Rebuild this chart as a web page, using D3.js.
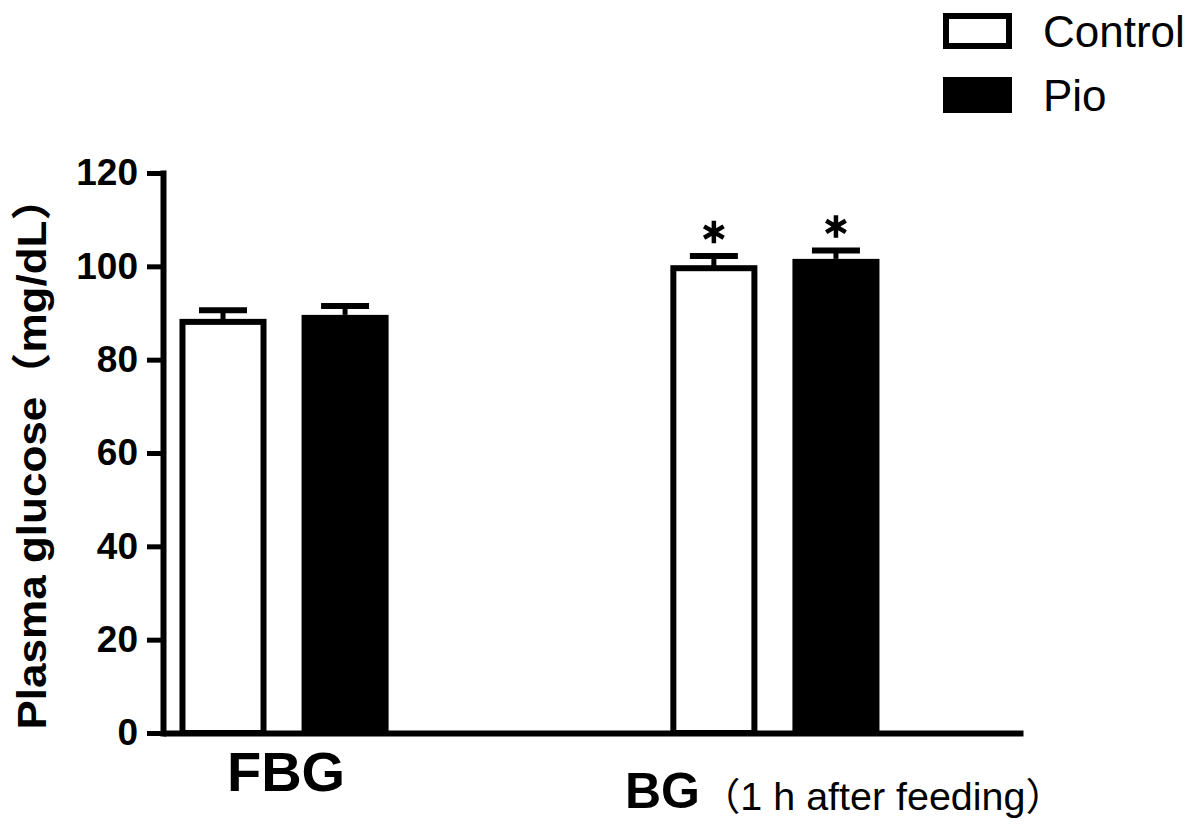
<!DOCTYPE html>
<html lang="en">
<head>
  <meta charset="utf-8">
  <title>Plasma glucose</title>
  <script src="https://d3js.org/d3.v7.min.js"></script>
  <style type="text/css">
    body { margin: 0; background: #fff; }
    text { font-family: "Liberation Sans", Arial, "Noto Sans CJK SC", sans-serif; fill: #000; }
  </style>
</head>
<body>
  <div id="chart"></div>
  <script type="text/javascript">
    // data
    const groups = ["FBG", "BG"];
    const series = ["Control", "Pio"];
    const controlMean = [88.1, 99.6];
    const pioMean = [89.6, 101.6];
    const controlSem = [2.5, 2.6];
    const pioSem = [1.9, 1.8];
    const significant = [false, true];
    const yTicks = [0, 20, 40, 60, 80, 100, 120];

    const w = 1193;
    const h = 828;

    const rows = [];
    groups.forEach((g, i) => {
      rows.push({ group: g, series: "Control", mean: controlMean[i], sem: controlSem[i], star: significant[i] });
      rows.push({ group: g, series: "Pio", mean: pioMean[i], sem: pioSem[i], star: significant[i] });
    });

    const svg = d3.select("#chart")
      .append("svg")
      .attr("width", w)
      .attr("height", h);

    const yScale = d3.scaleLinear()
      .domain([0, 120])
      .range([733, 173]);

    const xGroup = d3.scaleBand()
      .domain(groups)
      .range([163, 1023])
      .paddingInner(0.574)
      .paddingOuter(0.163)
      .align(0.103);

    const xInner = d3.scaleBand()
      .domain(series)
      .range([0, xGroup.bandwidth()])
      .paddingInner(0.287)
      .paddingOuter(0);

    const fill = d3.scaleOrdinal().domain(series).range(["#fff", "#000"]);
    const sw = 6;

    // bars
    const bars = svg.selectAll("g.bar")
      .data(rows)
      .enter()
      .append("g")
      .attr("class", "bar")
      .attr("transform", d => `translate(${xGroup(d.group) + xInner(d.series)},0)`);

    // error bars (upper half only)
    const bw = xInner.bandwidth();
    const capW = 48;
    bars.append("line")
      .attr("x1", bw / 2)
      .attr("x2", bw / 2)
      .attr("y1", d => yScale(d.mean))
      .attr("y2", d => yScale(d.mean + d.sem))
      .attr("stroke", "#000")
      .attr("stroke-width", 5);
    bars.append("line")
      .attr("x1", bw / 2 - capW / 2)
      .attr("x2", bw / 2 + capW / 2)
      .attr("y1", d => yScale(d.mean + d.sem))
      .attr("y2", d => yScale(d.mean + d.sem))
      .attr("stroke", "#000")
      .attr("stroke-width", 6);

    bars.append("rect")
      .attr("x", d => d.series === "Control" ? sw / 2 : 0)
      .attr("width", d => d.series === "Control" ? bw - sw : bw)
      .attr("y", d => yScale(d.mean))
      .attr("height", d => yScale(0) - yScale(d.mean))
      .attr("fill", d => fill(d.series))
      .attr("stroke", d => d.series === "Control" ? "#000" : "none")
      .attr("stroke-width", sw);

    // significance asterisks
    bars.filter(d => d.star)
      .append("path")
      .attr("transform", d => `translate(${bw / 2},${yScale(d.mean + d.sem) - 24})`)
      .attr("d", d3.symbol(d3.symbolAsterisk, 360))
      .attr("stroke", "#000")
      .attr("stroke-width", 4.5)
      .attr("fill", "none");

    // axes
    const leftAxis = d3.axisLeft(yScale)
      .tickValues(yTicks)
      .tickSize(16)
      .tickSizeOuter(0)
      .tickPadding(9);
    const gy = svg.append("g")
      .attr("class", "axis")
      .attr("transform", "translate(163,0)")
      .call(leftAxis);
    gy.select(".domain").attr("stroke-width", 6).attr("stroke-linecap", "square");
    gy.selectAll(".tick line").attr("stroke-width", 5);
    gy.selectAll(".tick text")
      .style("font-size", "37px")
      .style("font-weight", "bold");

    const bottomAxis = d3.axisBottom(xGroup).tickSize(0).tickSizeOuter(0).tickFormat("");
    const gx = svg.append("g")
      .attr("class", "axis")
      .attr("transform", "translate(0," + yScale(0) + ")")
      .call(bottomAxis);
    gx.select(".domain").attr("stroke-width", 6);

    // x labels
    svg.append("text")
      .attr("x", xGroup("FBG") + xGroup.bandwidth() / 2 + 2)
      .attr("y", 791)
      .style("text-anchor", "middle")
      .style("font-size", "56px")
      .style("font-weight", "bold")
      .text("FBG");

    const bgX = xGroup("BG") + xGroup.bandwidth() / 2 - 150;
    svg.append("text")
      .attr("x", bgX)
      .attr("y", 808)
      .style("font-size", "50px")
      .style("font-weight", "bold")
      .text("BG");
    svg.append("text")
      .attr("x", bgX + 76)
      .attr("y", 810)
      .style("font-size", "38px")
      .attr("textLength", 364)
      .attr("lengthAdjust", "spacingAndGlyphs")
      .text("（1 h after feeding）");

    // y title
    svg.append("text")
      .attr("transform", "translate(46," + (yScale(0) + yScale(120)) / 2 + ") rotate(-90)")
      .style("text-anchor", "middle")
      .style("font-size", "40px")
      .style("font-weight", "bold")
      .attr("textLength", 553)
      .attr("lengthAdjust", "spacingAndGlyphs")
      .text("Plasma glucose（mg/dL）");

    // legend
    const legend = svg.selectAll(".legend")
      .data(series)
      .enter().append("g")
      .attr("class", "legend")
      .attr("transform", (d, i) => `translate(946,${16 + i * 64})`);

    legend.append("rect")
      .attr("width", 63)
      .attr("height", 30)
      .attr("fill", fill)
      .attr("stroke", "#000")
      .attr("stroke-width", 6);

    legend.append("text")
      .attr("x", 97)
      .attr("y", 31)
      .style("font-size", "44px")
      .text(d => d);
  </script>
</body>
</html>
